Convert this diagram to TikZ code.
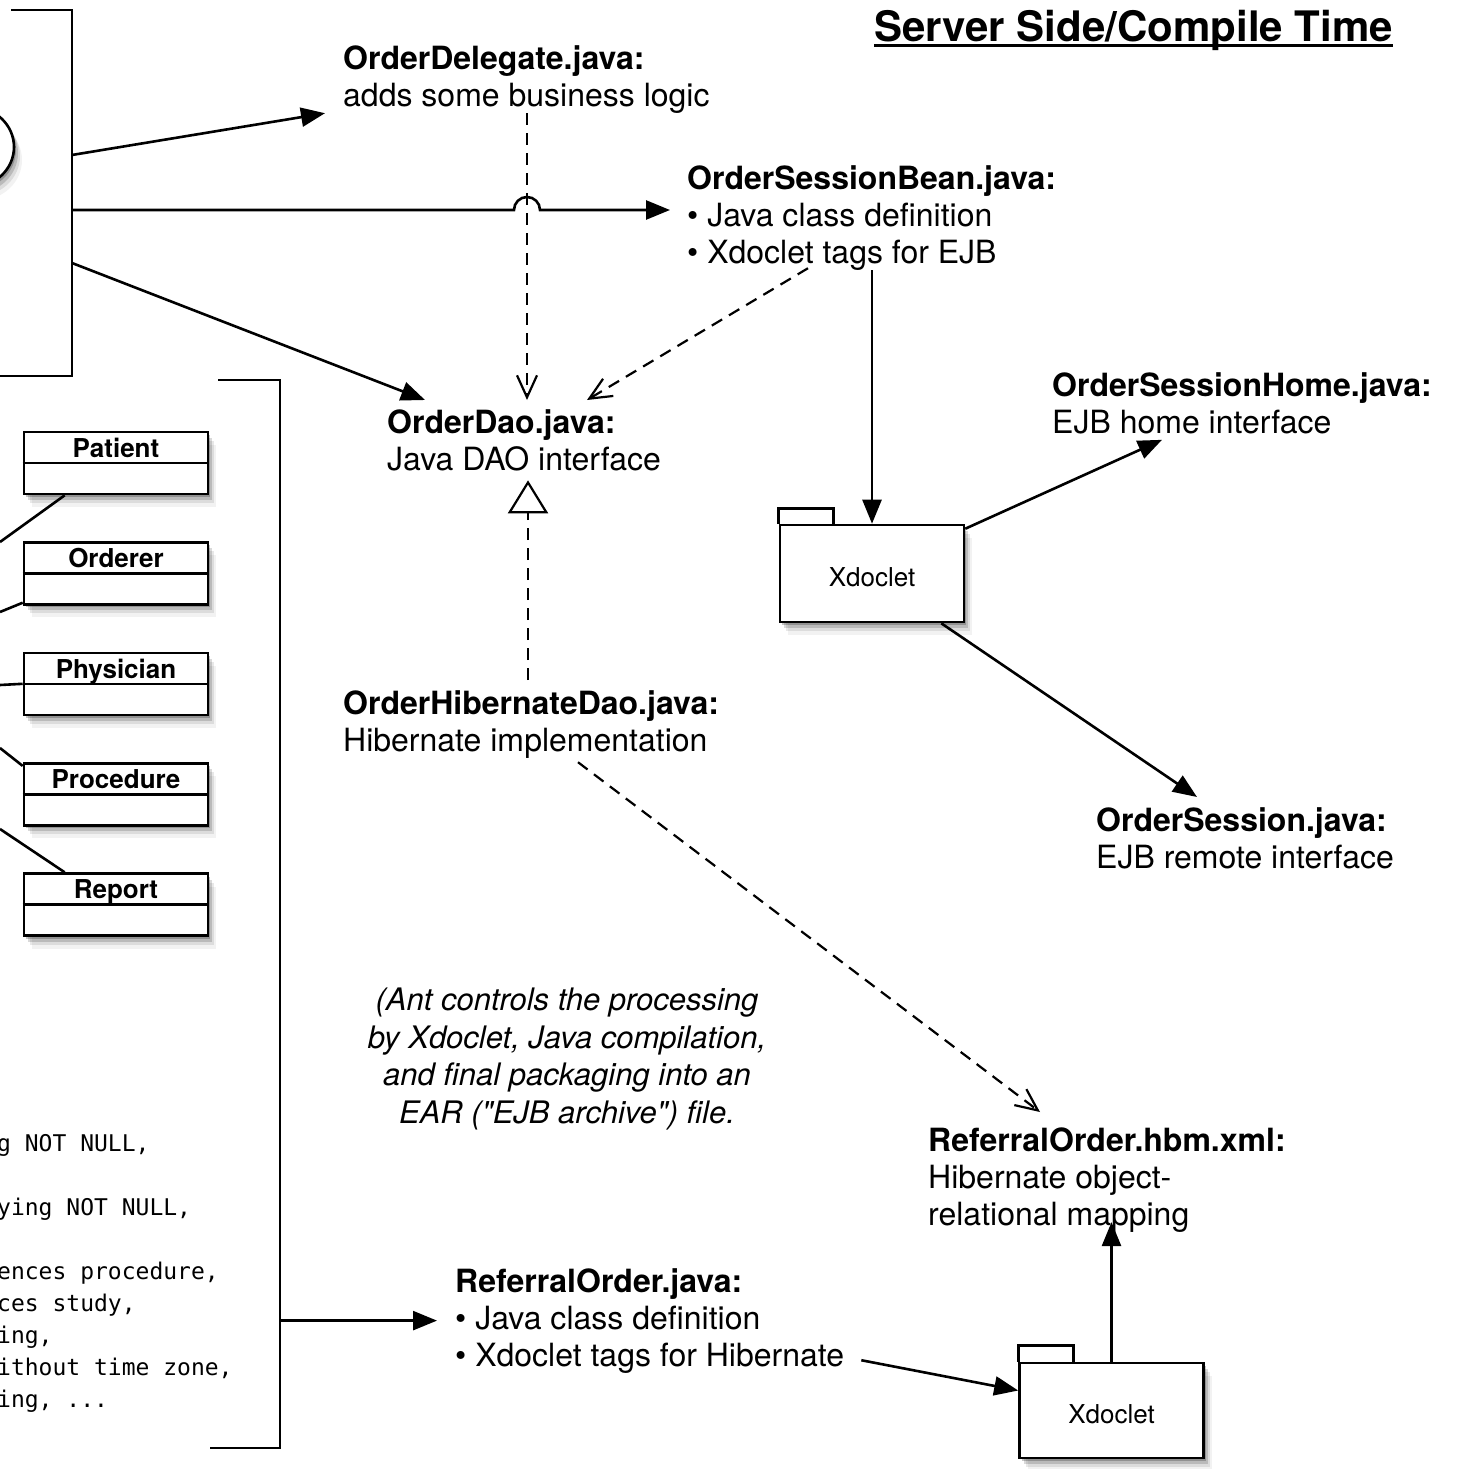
\documentclass[tikz,border=0pt]{standalone}
\usepackage{fontspec}
\setmainfont{TeX Gyre Heros}
\setmonofont{DejaVu Sans Mono}
\newfontfamily\noteface{TeX Gyre Heros}
\usetikzlibrary{arrows.meta,shadows,shapes.geometric,calc,positioning}
\tikzset{
    txt/.style={inner sep=0pt, anchor=north west, align=left, font=\fontsize{32}{37}\selectfont},
    headline/.style={inner sep=0pt, anchor=base, font=\fontsize{42}{48}\selectfont\bfseries},
    flow/.style={line width=2.6pt, -{Triangle[length=24pt,width=19pt]}},
    dep/.style={line width=2.2pt, dash pattern=on 12pt off 8pt, -{Straight Barb[length=22pt,width=20pt,line width=2.2pt]}},
    realize/.style={line width=2.2pt, dash pattern=on 12pt off 8pt, -{Triangle[open,length=33pt,width=40pt,line width=2.2pt,fill=white]}},
    link/.style={line width=2.6pt},
    softshadow/.style={
        general shadow={fill=black, opacity=.22, shadow xshift=2pt, shadow yshift=-3pt},
        general shadow={fill=black, opacity=.15, shadow xshift=4pt, shadow yshift=-6pt},
        general shadow={fill=black, opacity=.09, shadow xshift=6pt, shadow yshift=-9pt},
        general shadow={fill=black, opacity=.05, shadow xshift=8pt, shadow yshift=-13pt}},
    classbox/.style={draw, line width=2.6pt, fill=white, minimum width=184pt, minimum height=62pt, softshadow},
    clslabel/.style={inner sep=0pt, anchor=base, font=\fontsize{26}{30}\selectfont\bfseries},
    pkg/.style={draw, line width=2.6pt, fill=white, minimum width=184pt, minimum height=97pt, text height=25pt, text depth=0pt, font=\fontsize{26}{30}\selectfont, softshadow},
    codetxt/.style={inner sep=0pt, anchor=north west, align=left, font=\fontsize{23}{32}\selectfont\ttfamily},
    note/.style={inner sep=0pt, anchor=north, align=center, font=\fontsize{31}{37.5}\selectfont\noteface\itshape}
}

\begin{document}
\begin{tikzpicture}[x=1pt,y=-1pt]

        \clip (0,0) rectangle (1458,1469);
        \fill[white] (0,0) rectangle (1458,1469);

        \node (head) [headline] at (1133.5,42) {Server Side/Compile Time};
        \draw[line width=3pt] ([yshift=-4pt]head.base west) -- ([yshift=-4pt]head.base east);

        %% client side (cut off)

        \node (usecase) [draw, ellipse, line width=2.6pt, fill=white, minimum width=84pt, minimum height=80pt, softshadow] at (-28,147) {};
        \draw[link] (11,10) -- (72,10) -- (72,376) -- (0,376);
        \coordinate (brA1) at (72,155);
        \coordinate (brA2) at (72,210);
        \coordinate (brA3) at (72,263);

        \foreach \nm [count=\i] in {Patient,Orderer,Physician,Procedure,Report} {
            \node (cls\i) [classbox] at (116,{463+110.4*(\i-1)}) {};
            \draw[line width=2.6pt] (cls\i.west) -- (cls\i.east);
            \node (lbl\i) [clslabel] at ($(cls\i.north)+(0,26.5)$) {\nm};
        }
        \coordinate (end1) at (0,542);
        \coordinate (end2) at (0,612);
        \coordinate (end3) at (0,685);
        \coordinate (end4) at (0,748);
        \coordinate (end5) at (0,829);
        \draw[link] ([xshift=42pt]cls1.south west) -- (end1);
        \draw[link] ([yshift=3pt]cls2.south west) -- (end2);
        \draw[link] (cls3.west) -- (end3);
        \draw[link] ([yshift=-4pt]cls4.north west) -- (end4);
        \draw[link] ([xshift=42pt]cls5.north west) -- (end5);

        \node (sql) [codetxt] at (-3,1134) {g NOT NULL,\\ \\ying NOT NULL,\\ \\ences procedure,\\ces study,\\ing,\\ithout time zone,\\ing, ...};
        \draw[link] (218,380) -- (280,380) -- (280,1448) -- (210,1448);
        \coordinate (brB) at (280,1319);

        %% server side

        \node (deleg) [txt] at (343,45) {\textbf{OrderDelegate.java:}\\adds some business logic};
        \node (sbean) [txt] at (687,165) {\textbf{OrderSessionBean.java:}\\\textbullet{} Java class definition\\\textbullet{} Xdoclet tags for EJB};
        \node (dao) [txt] at (387,409) {\textbf{OrderDao.java:}\\Java DAO interface};
        \node (shome) [txt] at (1052,372) {\textbf{OrderSessionHome.java:}\\EJB home interface};
        \node (sess) [txt] at (1096,807) {\textbf{OrderSession.java:}\\EJB remote interface};
        \node (hdao) [txt] at (343,690) {\textbf{OrderHibernateDao.java:}\\Hibernate implementation};
        \node (hbm) [txt] at (928,1128) {\textbf{ReferralOrder.hbm.xml:}\\Hibernate object-\\relational mapping};
        \node (refj) [txt] at (455,1268) {\textbf{ReferralOrder.java:}\\\textbullet{} Java class definition\\\textbullet{} Xdoclet tags for Hibernate};
        \node (ant) [note] at (567,988) {(Ant controls the processing\\by Xdoclet, Java compilation,\\and final packaging into an\\EAR ("EJB archive") file.};

        \node (pkgA) [pkg] at (872,573.5) {Xdoclet};
        \draw[line width=2.6pt, fill=white] (pkgA.north west) -- ++(0,-15) -- ++(55,0) -- ++(0,15);
        \node (pkgB) [pkg, minimum height=95pt] at (1111.5,1410.5) {Xdoclet};
        \draw[line width=2.6pt, fill=white] (pkgB.north west) -- ++(0,-16) -- ++(55,0) -- ++(0,16);

        %% connectors

        \coordinate (hop) at (527,210);
        \draw[dep] ([xshift=184pt]deleg.south west) -- ([xshift=140pt,yshift=9pt]dao.north west);
        \draw[dep] ([xshift=121pt,yshift=2pt]sbean.south west) -- ([xshift=200pt,yshift=9pt]dao.north west);
        \draw[realize] ([xshift=185pt,yshift=10pt]hdao.north west) -- ([xshift=141pt,yshift=-9.5pt]dao.south west);
        \draw[dep] ([xshift=235pt,yshift=-4pt]hdao.south west) -- ([xshift=112pt,yshift=16pt]hbm.north west);

        \draw[flow] (brA1) -- ([xshift=-18pt]deleg.south west);
        \draw[flow] (brA2) -- ([xshift=-13pt]hop) arc (180:360:13) -- ([xshift=-17pt]hop -| sbean.west);
        \draw[flow] (brA3) -- ([xshift=38pt,yshift=9pt]dao.north west);

        \draw[flow] (sbean.south -| pkgA.north) -- (pkgA.north);
        \draw[flow] ([yshift=-5pt]pkgA.north east) -- ([xshift=110pt,yshift=-6pt]shome.south west);
        \draw[flow] ([xshift=-24pt]pkgA.south east) -- ([xshift=101pt,yshift=10pt]sess.north west);

        \draw[flow] (refj.west -| brB) -- ([xshift=-18pt]refj.west);
        \draw[flow] ([xshift=17pt,yshift=13pt]refj.south east) -- ([yshift=20pt]pkgB.west);
        \draw[flow] (pkgB.north) -- ($(pkgB.north |- hbm.south)+(0,-11)$);

\end{tikzpicture}
\end{document}
